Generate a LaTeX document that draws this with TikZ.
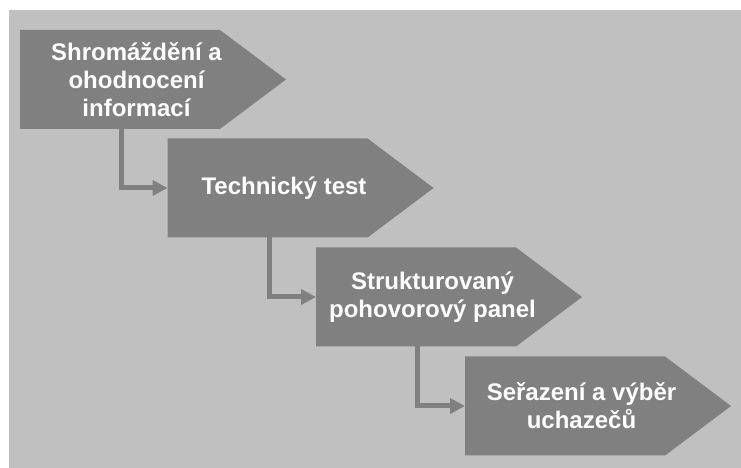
\documentclass[tikz,border=0pt]{standalone}
\usepackage{fontspec}
\setmainfont{Liberation Sans}
\usetikzlibrary{arrows.meta,
	backgrounds,
	calc}

\begin{document}
\begin{tikzpicture}[x=1pt,y=1pt]
    \definecolor{panelgray}{RGB}{192,192,192}
    \definecolor{stagegray}{RGB}{128,128,128}
    \tikzstyle{stage}=[anchor=north west,minimum width=233pt,minimum height=99pt,inner sep=2pt,outer sep=0pt,align=center,text=white,font=\bfseries\fontsize{24}{28}\selectfont]
    \tikzstyle{conn}=[draw=stagegray,line width=5pt,-{Triangle[length=15pt,width=15pt]}]
    \useasboundingbox (0,0) rectangle (741,468);
    \begin{scope}[on background layer]
      \fill[panelgray] (9,0) rectangle (741,458);
    \end{scope}
    \node[stage] (stage_1) at (20,438) {Shromáždění a\\ohodnocení\\informací};
    \node[stage] (stage_2) at (167.5,329.5) {Technický test};
    \node[stage] (stage_3) at (316,220.5) {Strukturovaný\\pohovorový panel};
    \node[stage] (stage_4) at (465,111.5) {Seřazení a výběr\\uchazečů};
    \begin{scope}[on background layer]
      \foreach \s in {1,...,4}
        \fill[stagegray] (stage_\s.north west) -- ++(200,0) -- ++(66,-49.5) -- ++(-66,-49.5) -- (stage_\s.south west) -- cycle;
    \end{scope}
    \draw[conn] ($(stage_1.south west)+(101.5,0)$) |- (stage_2.west);
    \draw[conn] ($(stage_2.south west)+(101.5,0)$) |- (stage_3.west);
    \draw[conn] ($(stage_3.south west)+(101.5,0)$) |- (stage_4.west);
\end{tikzpicture}
\end{document}
